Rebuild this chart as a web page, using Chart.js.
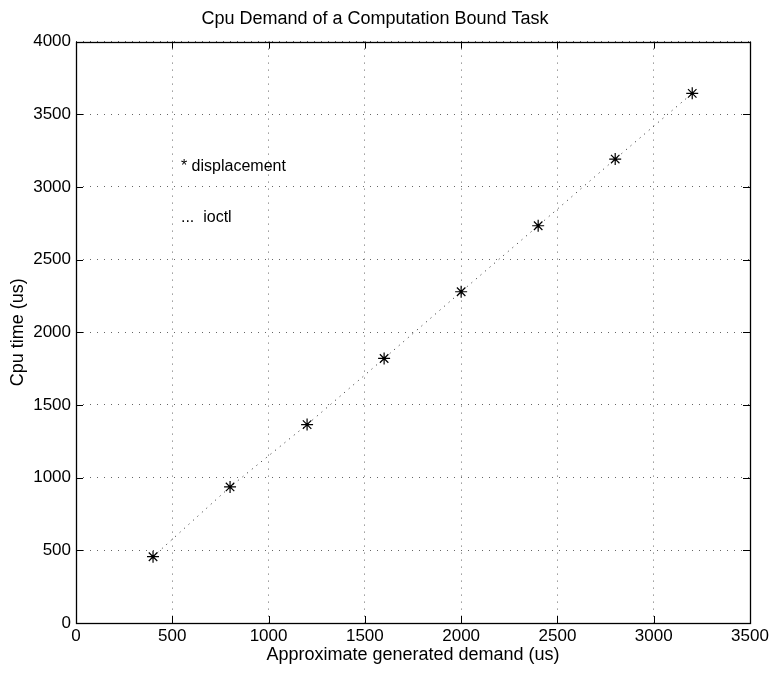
<!DOCTYPE html>
<html>
<head>
<meta charset="utf-8">
<script src="https://cdn.jsdelivr.net/npm/chart.js@4/dist/chart.umd.min.js"></script>
<style>
html,body{margin:0;padding:0;background:#fff;}
canvas{display:block;}
</style>
</head>
<body>
<canvas id="c" width="772" height="675"></canvas>
<script>
const demand = [400, 800, 1200, 1600, 2000, 2400, 2800, 3200];
const displacementTime = [456, 936, 1365, 1820, 2279, 2733, 3192, 3644];
const ioctlTime = [456, 936, 1365, 1820, 2279, 2733, 3192, 3644];
const xTicks = [0, 500, 1000, 1500, 2000, 2500, 3000, 3500];
const yTicks = [0, 500, 1000, 1500, 2000, 2500, 3000, 3500, 4000];
const titleText = 'Cpu Demand of a Computation Bound Task';
const xLabel = 'Approximate generated demand (us)';
const yLabel = 'Cpu time (us)';
const notes = [
  {x: 545, y: 3150, text: '* displacement'},
  {x: 545, y: 2800, text: '...  ioctl'}
];

const FONT = '"Liberation Sans", Arial, Helvetica, sans-serif';

const boxPlugin = {
  id: 'box',
  afterDatasetsDraw(chart) {
    const {ctx, chartArea: a, scales} = chart;
    ctx.save();
    ctx.strokeStyle = '#000';
    ctx.lineWidth = 1;
    const tl = 7;
    ctx.beginPath();
    xTicks.forEach(v => {
      const px = Math.round(scales.x.getPixelForValue(v)) + 0.5;
      ctx.moveTo(px, a.bottom); ctx.lineTo(px, a.bottom - tl);
      ctx.moveTo(px, a.top); ctx.lineTo(px, a.top + tl);
    });
    yTicks.forEach(v => {
      const py = Math.round(scales.y.getPixelForValue(v)) + 0.5;
      ctx.moveTo(a.left, py); ctx.lineTo(a.left + tl, py);
      ctx.moveTo(a.right, py); ctx.lineTo(a.right - tl, py);
    });
    ctx.stroke();
    ctx.lineWidth = 1.3;
    ctx.strokeRect(Math.round(a.left) + 0.5, Math.round(a.top) + 0.5,
                   Math.round(a.right - a.left), Math.round(a.bottom - a.top));
    ctx.fillStyle = '#000';
    ctx.font = '16px ' + FONT;
    ctx.textBaseline = 'alphabetic';
    ctx.textAlign = 'left';
    notes.forEach(n => {
      ctx.fillText(n.text, scales.x.getPixelForValue(n.x), scales.y.getPixelForValue(n.y) + 6);
    });
    ctx.restore();
  }
};

new Chart(document.getElementById('c'), {
  type: 'scatter',
  data: {
    datasets: [
      {
        label: 'displacement',
        data: demand.map((x, i) => ({x, y: displacementTime[i]})),
        showLine: false,
        pointStyle: 'star',
        pointRadius: 6,
        pointBorderWidth: 1.2,
        borderColor: '#000',
        backgroundColor: '#000',
        order: 0
      },
      {
        label: 'ioctl',
        data: demand.map((x, i) => ({x, y: ioctlTime[i]})),
        showLine: true,
        pointRadius: 0,
        borderColor: '#222',
        borderWidth: 1,
        borderDash: [1, 5],
        order: 1
      }
    ]
  },
  options: {
    responsive: false,
    animation: false,
    layout: {padding: {left: 0, right: 22, top: 0, bottom: 0}},
    plugins: {
      legend: {display: false},
      tooltip: {enabled: false},
      title: {
        display: true,
        text: titleText,
        color: '#000',
        font: {family: FONT, size: 18, weight: 'normal'},
        padding: {top: 8, bottom: 12}
      }
    },
    scales: {
      x: {
        type: 'linear',
        min: 0, max: 3500,
        afterBuildTicks: s => { s.ticks = xTicks.map(v => ({value: v})); },
        afterFit: s => { s.height = 52; },
        ticks: {color: '#000', font: {family: FONT, size: 17}, padding: 3, maxRotation: 0,
                callback: v => String(v)},
        grid: {color: '#666', lineWidth: 1, drawTicks: false},
        border: {display: false, dash: [1, 6]},
        title: {display: true, text: xLabel, color: '#000',
                font: {family: FONT, size: 18}, padding: {top: 0, bottom: 9}}
      },
      y: {
        type: 'linear',
        min: 0, max: 4000,
        afterBuildTicks: s => { s.ticks = yTicks.map(v => ({value: v})); },
        afterFit: s => { s.width = 76; },
        ticks: {color: '#000', font: {family: FONT, size: 17}, padding: 5,
                callback: v => String(v)},
        grid: {color: '#666', lineWidth: 1, drawTicks: false},
        border: {display: false, dash: [1, 6]},
        title: {display: true, text: yLabel, color: '#000',
                font: {family: FONT, size: 18}, padding: {top: 7, bottom: 0}}
      }
    }
  },
  plugins: [boxPlugin]
});
</script>
</body>
</html>
